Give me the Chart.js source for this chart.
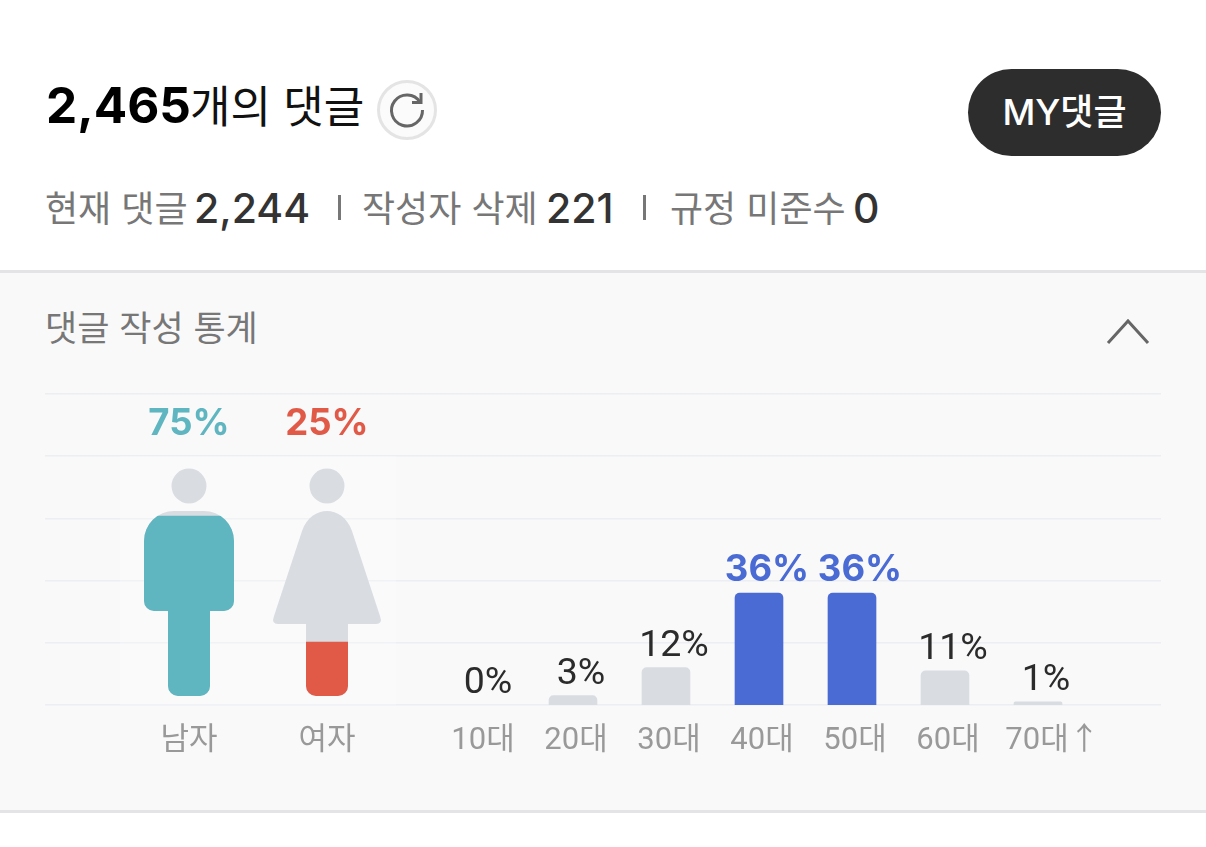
<!DOCTYPE html>
<html lang="ko"><head><meta charset="utf-8">
<script src="https://cdn.jsdelivr.net/npm/chart.js@4"></script>
<style>
html,body{margin:0;padding:0;background:#fff;width:1206px;height:847px;overflow:hidden;font-family:Inter,"Noto Sans CJK KR",sans-serif}
.t{position:absolute;white-space:nowrap;line-height:1}
#panel{position:absolute;left:0;top:270px;width:1206px;height:543px;background:#f9f9fa;border-top:3px solid #e4e4e6;border-bottom:3px solid #e4e4e6;box-sizing:border-box}
canvas{position:absolute;left:0;top:380px}
.g{color:#777;font-family:"Noto Sans CJK KR"}
.n{color:#333;font-family:Inter;font-weight:500}
.sep{position:absolute;width:2.5px;height:25px;top:195px;background:#777}
</style></head><body>
<div class="t" style="left:46px;top:81px;font-size:49.5px;font-weight:700;color:#000;font-family:Inter" id="total"></div>
<div class="t" style="left:190px;top:82px;font-size:44px;color:#111;font-family:'Noto Sans CJK KR'">개의 댓글</div>
<svg style="position:absolute;left:376px;top:79px" width="62" height="62" viewBox="0 0 62 62">
<circle cx="31" cy="31" r="28.5" fill="#fbfbfb" stroke="#e4e4e4" stroke-width="3"/>
<path d="M44 23A15.5 15.5 0 1 0 46.5 31" fill="none" stroke="#666" stroke-width="3"/>
<path d="M36 23.5H45V14" fill="none" stroke="#666" stroke-width="3"/></svg>
<div class="t" style="left:968px;top:69px;width:193px;height:87px;border-radius:44px;background:#2d2d2d;color:#fff;font-size:36px;font-weight:500;line-height:87px;text-align:center;font-family:Inter,'Noto Sans CJK KR'">MY댓글</div>
<div class="t g" style="left:45px;top:188px;font-size:36px">현재 댓글</div><div class="t n" style="left:194px;top:188px;font-size:41px" id="s1"></div>
<div class="sep" style="left:338px"></div>
<div class="t g" style="left:362px;top:188px;font-size:36px">작성자 삭제</div><div class="t n" style="left:546px;top:188px;font-size:41px" id="s2"></div>
<div class="sep" style="left:643px"></div>
<div class="t g" style="left:670px;top:188px;font-size:36px">규정 미준수</div><div class="t n" style="left:853px;top:188px;font-size:41px" id="s3"></div>
<div id="panel"></div>
<div class="t g" style="left:45px;top:308px;font-size:35px;font-weight:400">댓글 작성 통계</div>
<svg style="position:absolute;left:1100px;top:312px" width="56" height="40"><path d="M8 31L28 9L48 31" fill="none" stroke="#666" stroke-width="3"/></svg>
<canvas id="grid" width="1206" height="400"></canvas>
<canvas id="gender" width="1206" height="400"></canvas>
<canvas id="age" width="1206" height="400"></canvas>
<script>
const totalComments = "2,465";
const currentComments = "2,244";
const deletedByAuthor = "221";
const ruleViolations = "0";
const gridTicks = [0, 20, 40, 60, 80, 100];
const genderLabels = ["남자", "여자"];
const genderValues = [75, 25];
const ageLabels = ["10대", "20대", "30대", "40대", "50대", "60대", "70대↑"];
const ageValues = [0, 3, 12, 36, 36, 11, 1];

document.getElementById('total').textContent = totalComments;
document.getElementById('s1').textContent = currentComments;
document.getElementById('s2').textContent = deletedByAuthor;
document.getElementById('s3').textContent = ruleViolations;

Chart.defaults.animation = false;
Chart.defaults.responsive = false;
Chart.defaults.plugins.legend.display = false;
Chart.defaults.plugins.tooltip.enabled = false;

const SIL = '#d9dce1', TEAL = '#5fb5c0', RED = '#e05a47', BLUE = '#4a6ad4', TICK = '#999';
const tickFont = {family: 'Roboto, "Noto Sans CJK KR"', size: 31};

new Chart(document.getElementById('grid'), {
  type: 'bar',
  data: {labels: [''], datasets: [{data: [null]}]},
  options: {
    layout: {padding: {left: 45, right: 45, top: 14, bottom: 75}},
    scales: {
      x: {display: false},
      y: {min: 0, max: 100, afterBuildTicks: s => { s.ticks = gridTicks.map(v => ({value: v})); },
        ticks: {display: false}, border: {display: false},
        grid: {color: '#eceef1', lineWidth: 1.5, drawTicks: false}}
    }
  }
});

function manPath(c, x) {
  c.moveTo(x - 45, 541);
  c.arc(x - 15, 541, 30, Math.PI, 1.5 * Math.PI);
  c.lineTo(x + 15, 511);
  c.arc(x + 15, 541, 30, 1.5 * Math.PI, 0);
  c.lineTo(x + 45, 601);
  c.arcTo(x + 45, 611, x + 35, 611, 10);
  c.lineTo(x + 21, 611);
  c.lineTo(x + 21, 686);
  c.arcTo(x + 21, 696, x + 11, 696, 10);
  c.lineTo(x - 11, 696);
  c.arcTo(x - 21, 696, x - 21, 686, 10);
  c.lineTo(x - 21, 611);
  c.lineTo(x - 35, 611);
  c.arcTo(x - 45, 611, x - 45, 601, 10);
  c.closePath();
}
function womanPath(c, x) {
  c.moveTo(x - 25, 531);
  c.bezierCurveTo(x - 20, 517, x - 10, 511, x, 511);
  c.bezierCurveTo(x + 10, 511, x + 20, 517, x + 25, 531);
  c.lineTo(x + 53, 616);
  c.quadraticCurveTo(x + 56, 624, x + 49, 624);
  c.lineTo(x + 21, 624);
  c.lineTo(x + 21, 686);
  c.arcTo(x + 21, 696, x + 11, 696, 10);
  c.lineTo(x - 11, 696);
  c.arcTo(x - 21, 696, x - 21, 686, 10);
  c.lineTo(x - 21, 624);
  c.lineTo(x - 49, 624);
  c.quadraticCurveTo(x - 56, 624, x - 53, 616);
  c.closePath();
}
const glyphs = [manPath, womanPath];
const pictogram = {
  id: 'pictogram',
  beforeDatasetsDraw(chart) {
    const c = chart.ctx, meta = chart.getDatasetMeta(0), a = chart.chartArea;
    c.save();
    c.fillStyle = 'rgba(255,255,255,0.25)';
    c.fillRect(a.left, a.top + 3, a.right - a.left, a.bottom - a.top - 3);
    c.translate(0, -380);
    c.fillStyle = SIL;
    c.beginPath();
    meta.data.forEach((bar, i) => {
      c.moveTo(bar.x + 17.5, 486);
      c.arc(bar.x, 486, 17.5, 0, 2 * Math.PI);
      glyphs[i](c, bar.x);
    });
    c.fill();
    c.beginPath();
    meta.data.forEach((bar, i) => glyphs[i](c, bar.x));
    c.clip();
    c.translate(0, 380);
  },
  afterDatasetsDraw(chart) {
    const c = chart.ctx;
    c.restore();
    c.save();
    c.font = '700 36.5px Inter';
    c.textAlign = 'center';
    c.textBaseline = 'middle';
    chart.getDatasetMeta(0).data.forEach((bar, i) => {
      c.fillStyle = [TEAL, RED][i];
      c.fillText(genderValues[i] + '%', bar.x, chart.chartArea.top - 29);
    });
    c.restore();
  }
};
new Chart(document.getElementById('gender'), {
  type: 'bar',
  data: {labels: genderLabels, datasets: [{data: genderValues, backgroundColor: [TEAL, RED],
    barPercentage: 1, categoryPercentage: 1}]},
  options: {
    layout: {padding: {left: 120, right: 810, top: 73, bottom: 0}},
    scales: {
      x: {afterFit: s => { s.height = 75; }, border: {display: false},
        grid: {display: false, drawTicks: false},
        ticks: {color: TICK, font: tickFont, padding: 18, maxRotation: 0, autoSkip: false}},
      y: {display: false, min: 0, max: 100}
    }
  },
  plugins: [pictogram]
});

const maxAge = Math.max(...ageValues);
const ageLabelPlugin = {
  id: 'ageLabelPlugin',
  afterDatasetsDraw(chart) {
    const c = chart.ctx;
    c.save();
    c.letterSpacing = '0px';
    c.textAlign = 'center';
    c.textBaseline = 'middle';
    chart.getDatasetMeta(0).data.forEach((bar, i) => {
      const top = ageValues[i] === maxAge;
      c.font = top ? '700 36.5px Inter' : '400 37.5px Roboto';
      c.fillStyle = top ? BLUE : '#2b2b2b';
      c.fillText(ageValues[i] + '%', bar.x + 8, bar.y - (top ? 23 : 21));
    });
    c.restore();
  }
};
const ageCanvas = document.getElementById('age');
ageCanvas.getContext('2d').letterSpacing = '3px';
new Chart(ageCanvas, {
  type: 'bar',
  data: {labels: ageLabels, datasets: [{data: ageValues,
    backgroundColor: ageValues.map(v => v === 0 ? 'transparent' : v === maxAge ? BLUE : SIL),
    barThickness: 48, borderRadius: {topLeft: 5, topRight: 5, bottomLeft: 0, bottomRight: 0}, borderSkipped: false}]},
  options: {
    layout: {padding: {left: 433.5, right: 121.5, top: 14, bottom: 15}},
    scales: {
      x: {afterFit: s => { s.height = 60; }, border: {display: false},
        grid: {display: false, drawTicks: false},
        ticks: {color: TICK, font: tickFont, padding: 18, maxRotation: 0, autoSkip: false, labelOffset: 3,
          callback(v, i) { const t = this.getLabelForValue(v); return i === ageLabels.length - 1 ? '\u00a0\u00a0\u00a0' + t : t; }}},
      y: {display: false, min: 0, max: 100}
    }
  },
  plugins: [ageLabelPlugin]
});
</script></body></html>
